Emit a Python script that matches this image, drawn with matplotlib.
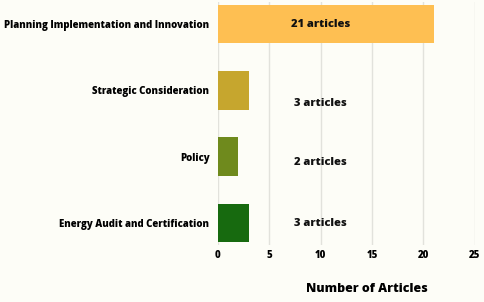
import numpy as np
import matplotlib.pyplot as plt

categories = ['Planning Implementation and Innovation', 'Strategic Consideration',
              'Policy', 'Energy Audit and Certification']
counts = [21, 3, 2, 3]
labels = ['21 articles', '3 articles', '2 articles', '3 articles']
colors = ['#FEBF52', '#C6A62E', '#6F8A1D', '#176A0F']
# label vertical nudge (in category units), as placed in the original
label_dy = [0.0, 0.2, 0.09, 0.0]

plt.rcParams['font.family'] = ['Open Sans', 'DejaVu Sans']
W = 800  # the "bold" face resolves to a condensed file here
bg = '#FDFDF7'
fig = plt.figure(figsize=(4.84, 3.02), dpi=100, facecolor=bg)
ax = fig.add_axes([0.45, 0.189, 0.531, 0.804], facecolor=bg)

y = np.arange(len(categories))
ax.barh(y, counts, height=0.58, color=colors, edgecolor='none', zorder=3)
for i in range(len(categories)):
    ax.text(10, y[i] + label_dy[i], labels[i], ha='center', va='center',
            fontsize=8.0, fontweight=W, color='#111111', zorder=4)

ax.set_xlim(0, 25)
ax.set_ylim(3.33, -0.33)
ax.set_xticks([0, 5, 10, 15, 20, 25])
ax.set_yticks(y)
ax.set_yticklabels(categories, fontsize=6.9, fontweight=W)
for t in ax.get_xticklabels():
    t.set_fontweight(W)
    t.set_fontsize(6.9)
ax.tick_params(axis='y', length=0, pad=6)
ax.tick_params(axis='x', length=0, pad=4)
ax.grid(axis='x', color='#E2E2DC', linewidth=1, zorder=0)
for s in ax.spines.values():
    s.set_visible(False)
ax.set_xlabel('Number of Articles', fontsize=8.9, fontweight=W)
ax.xaxis.set_label_coords(0.58, -0.155)

fig.savefig('out.png', dpi=100, facecolor=bg)
